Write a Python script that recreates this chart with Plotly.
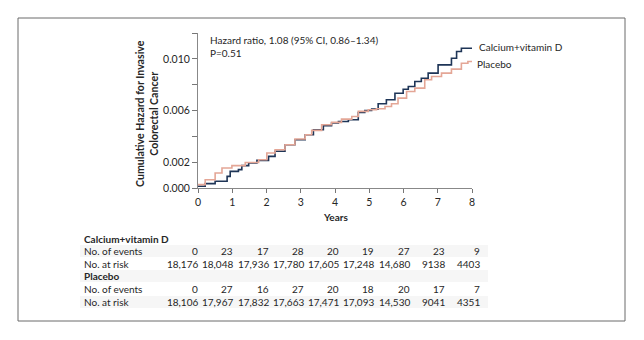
import plotly.graph_objects as go

# ---------------- data ----------------
years_ca = [0, 0.21, 0.50, 0.85, 0.94, 1.18, 1.28, 1.48, 1.72, 2.00, 2.06, 2.25, 2.54, 2.83,
            3.13, 3.37, 3.66, 3.90, 4.10, 4.39, 4.68, 4.87, 5.07, 5.26, 5.50, 5.75, 5.99,
            6.14, 6.33, 6.52, 6.72, 7.01, 7.30, 7.40, 7.55, 7.69, 8.00]
hazard_ca = [0.00013, 0.00034, 0.00052, 0.00090, 0.00129, 0.00142, 0.00173, 0.00193, 0.00214,
             0.00214, 0.00245, 0.00284, 0.00335, 0.00374, 0.00412, 0.00451, 0.00482, 0.00503,
             0.00515, 0.00528, 0.00585, 0.00600, 0.00611, 0.00652, 0.00683, 0.00734, 0.00765,
             0.00786, 0.00825, 0.00850, 0.00889, 0.00953, 0.00953, 0.01005, 0.01057, 0.01082,
             0.01082]
years_pl = [0, 0.21, 0.50, 0.70, 0.99, 1.38, 1.77, 2.01, 2.25, 2.54, 2.83, 3.13, 3.32, 3.61,
            3.90, 4.19, 4.49, 4.68, 4.97, 5.21, 5.46, 5.65, 5.84, 6.09, 6.33, 6.62, 6.82,
            7.11, 7.40, 7.69, 7.88, 8.00]
hazard_pl = [0.00026, 0.00064, 0.00116, 0.00155, 0.00173, 0.00198, 0.00219, 0.00271, 0.00296,
             0.00335, 0.00379, 0.00412, 0.00446, 0.00490, 0.00508, 0.00533, 0.00554, 0.00593,
             0.00606, 0.00613, 0.00631, 0.00652, 0.00696, 0.00747, 0.00773, 0.00838, 0.00863,
             0.00889, 0.00920, 0.00966, 0.00979, 0.00984]

x_ticks = [0, 1, 2, 3, 4, 5, 6, 7, 8]
y_ticks = [0, 0.002, 0.004, 0.006, 0.008, 0.010, 0.012]
y_tick_labels = ["0.000", "0.002", "", "0.006", "", "0.010", ""]

series_names = ["Calcium+vitamin D", "Placebo"]
events_ca = ["0", "23", "17", "28", "20", "19", "27", "23", "9"]
risk_ca = ["18,176", "18,048", "17,936", "17,780", "17,605", "17,248", "14,680", "9138", "4403"]
events_pl = ["0", "27", "16", "27", "20", "18", "20", "17", "7"]
risk_pl = ["18,106", "17,967", "17,832", "17,663", "17,471", "17,093", "14,530", "9041", "4351"]

hr_text = "Hazard ratio, 1.08 (95% CI, 0.86–1.34)"
p_text = "P=0.51"

# ---------------- layout helpers ----------------
W, H = 644, 340
PL, PR, PT, PB = 198, 472, 33, 188


def px(x):
    return (x - PL) / (PR - PL)


def py(y):
    return (PB - y) / (PB - PT)


FONT = "Lato"
TXT = "#262626"
C_CA = "#1e3557"
C_PL = "#e4a696"

fig = go.Figure()
fig.add_trace(go.Scatter(x=years_ca, y=hazard_ca, mode="lines", line=dict(color=C_CA, width=1.6, shape="hv"),
                         name=series_names[0], showlegend=False))
fig.add_trace(go.Scatter(x=years_pl, y=hazard_pl, mode="lines", line=dict(color=C_PL, width=1.6, shape="hv"),
                         name=series_names[1], showlegend=False))

ann = []
shapes = []

# outer frame
shapes.append(dict(type="rect", xref="paper", yref="paper", x0=px(18), x1=px(625), y0=py(321), y1=py(18),
                   line=dict(color="#6a6a6a", width=1), fillcolor="rgba(0,0,0,0)", layer="below"))

# table stripes
for yc in [251, 276, 302]:
    shapes.append(dict(type="rect", xref="paper", yref="paper", x0=px(80), x1=px(488), y0=py(yc + 6),
                       y1=py(yc - 6), line=dict(width=0), fillcolor="#f6f6f6", layer="below"))


def text(t, x, y, anchor="left", size=10, angle=0):
    ann.append(dict(text=t, x=px(x), y=py(y), xref="paper", yref="paper", xanchor=anchor,
                    yanchor="middle", showarrow=False, textangle=angle,
                    font=dict(family=FONT, size=size, color=TXT)))


# annotations in plot
text(hr_text, 208, 40)
text(p_text, 208, 53)
text(series_names[0], 477, 47.5)
text(series_names[1], 475, 64)

# axis titles
text("<b>Years</b>", 335, 217, anchor="center")
text("<b>Cumulative Hazard for Invasive<br>Colorectal Cancer</b>", 147, 114, anchor="center", size=10.6, angle=-90)

# risk table
row_y = [239, 251, 264, 276, 289, 302]
col_right = [200 + i * (482 - 200) / 8 for i in range(9)]
for t, yv in [("<b>" + series_names[0] + "</b>", row_y[0]), ("No. of events", row_y[1]),
              ("No. at risk", row_y[2]), ("<b>" + series_names[1] + "</b>", row_y[3]),
              ("No. of events", row_y[4]), ("No. at risk", row_y[5])]:
    text(t, 82, yv)
for vals, yv in [(events_ca, row_y[1]), (risk_ca, row_y[2]), (events_pl, row_y[4]), (risk_pl, row_y[5])]:
    for v, xr in zip(vals, col_right):
        text(v, xr, yv, anchor="right")

fig.update_layout(
    width=W, height=H, margin=dict(l=PL, r=W - PR, t=PT, b=H - PB),
    paper_bgcolor="white", plot_bgcolor="white", showlegend=False,
    annotations=ann, shapes=shapes,
    font=dict(family=FONT, size=10, color=TXT),
)
fig.update_xaxes(range=[0, 8], tickmode="array", tickvals=x_ticks, ticks="outside", ticklen=4,
                 tickcolor="#777", showline=True, linecolor="#888", linewidth=1, showgrid=False,
                 zeroline=False, tickfont=dict(family=FONT, size=10.5, color=TXT), fixedrange=True)
fig.update_yaxes(range=[0, 0.012], tickmode="array", tickvals=y_ticks, ticktext=y_tick_labels,
                 ticks="outside", ticklen=5, tickcolor="#777", showline=True, linecolor="#888", linewidth=1,
                 showgrid=False, zeroline=False, tickfont=dict(family=FONT, size=10.5, color=TXT), fixedrange=True)

fig.write_html("out.html", config={"displayModeBar": False})
